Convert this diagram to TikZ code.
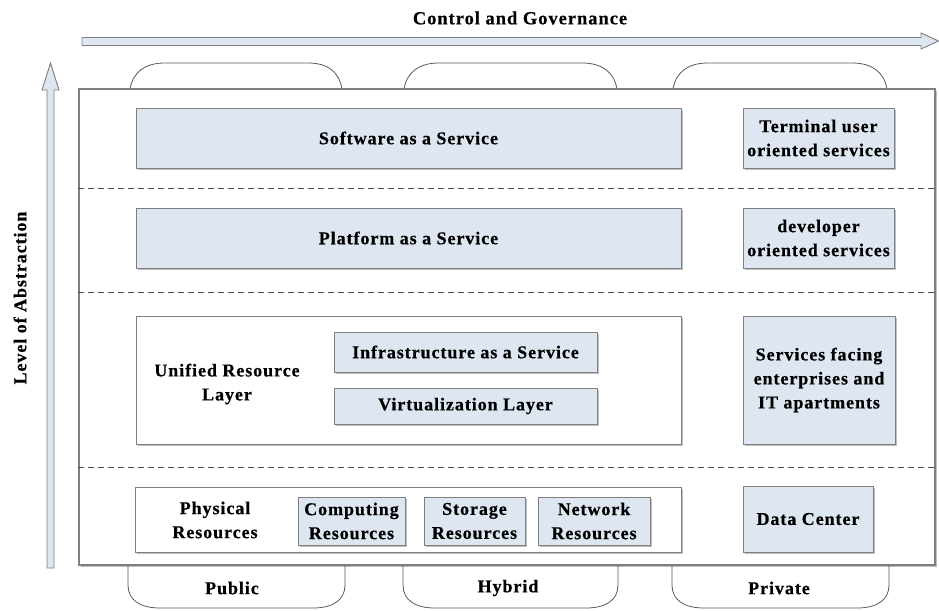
\documentclass[tikz,border=0pt]{standalone}
\usepackage{fontspec}
\setmainfont{Liberation Serif}[LetterSpace=5.2, BoldFeatures={FakeBold=0.5}]
\usetikzlibrary{shadows}
\definecolor{paleblue}{HTML}{DEE7F1}
\definecolor{edgegray}{HTML}{7F7F7F}
\tikzset{
  lbl/.style={font=\fontsize{18}{24}\selectfont\bfseries, align=center, inner sep=0pt},
  shadowed/.style={drop shadow={shadow xshift=1.6pt, shadow yshift=-1.6pt, fill=black, opacity=0.25}},
  bluebox/.style={lbl, draw=edgegray, fill=paleblue, line width=0.9pt, shadowed},
  whitebox/.style={lbl, draw=edgegray, fill=white, line width=0.9pt, shadowed},
  blockarrow/.style={draw=edgegray, fill=paleblue, line width=0.9pt, line join=miter},
  tab/.style={draw=black!65, line width=0.8pt},
  separator/.style={draw=black!70, dashed, dash pattern=on 6pt off 4pt, line width=0.9pt}
}
\begin{document}
\begin{tikzpicture}[x=1pt, y=-1pt]
\useasboundingbox (0,0) rectangle (939,610);

% axis arrows
\path[blockarrow] (82,37.5) -- (921,37.5) -- (921,33) -- (938.5,41) -- (921,49) -- (921,45.5) -- (82,45.5) -- cycle;
\node[lbl, font=\fontsize{18.5}{24}\selectfont\bfseries] (gov) at (520,18) {Control and Governance};
\path[blockarrow] (47,568) -- (47,90) -- (42,90) -- (50.5,63) -- (59,90) -- (54,90) -- (54,568) -- cycle;
\node[lbl, rotate=90] (abs) at (20,298) {Level of Abstraction};

% deployment tabs above the frame
\path[tab] (130,89) .. controls (133,72) and (145,63) .. (165,63) -- (308,63) .. controls (328,63) and (339,72) .. (342,89);
\path[tab] (404,89) .. controls (407,72) and (419,63) .. (439,63) -- (582,63) .. controls (602,63) and (614,72) .. (617,89);
\path[tab] (673,89) .. controls (676,72) and (688,63) .. (708,63) -- (852,63) .. controls (872,63) and (884,72) .. (887,89);

% deployment tabs below the frame
\path[tab] (128,565) -- (128,585) .. controls (128,600) and (140,608) .. (160,608) -- (313,608) .. controls (333,608) and (345,600) .. (345,585) -- (345,565);
\path[tab] (403,565) -- (403,585) .. controls (403,600) and (415,608) .. (435,608) -- (586,608) .. controls (606,608) and (618,600) .. (618,585) -- (618,565);
\path[tab] (672,565) -- (672,585) .. controls (672,600) and (684,608) .. (704,608) -- (857,608) .. controls (877,608) and (889,600) .. (889,585) -- (889,565);
\node[lbl] (public) at (232,588) {Public};
\node[lbl] (hybrid) at (508,588) {Hybrid};
\node[lbl] (private) at (779,588) {Private};

% main frame
\node[whitebox, minimum width=856pt, minimum height=476pt, line width=1.1pt] (frame) at (507,327) {};

% layer separators
\draw[separator] (frame.west |- 0,188) -- (frame.east |- 0,188);
\draw[separator] (frame.west |- 0,292) -- (frame.east |- 0,292);
\draw[separator] (frame.west |- 0,467) -- (frame.east |- 0,467);

% SaaS layer
\node[bluebox, minimum width=545pt, minimum height=60pt] (saas) at (408.5,138) {Software as a Service};
\node[bluebox, minimum width=151pt, minimum height=60pt] (enduser) at (818.5,138) {Terminal user\\oriented services};

% PaaS layer
\node[bluebox, minimum width=545pt, minimum height=60pt] (paas) at (408.5,238) {Platform as a Service};
\node[bluebox, minimum width=151pt, minimum height=60pt] (dev) at (818.5,238) {developer\\oriented services};

% IaaS layer
\node[whitebox, minimum width=545pt, minimum height=128pt] (unified) at (408.5,380) {};
\node[lbl] (unifiedlbl) at (227,384) {Unified Resource\\Layer};
\node[bluebox, minimum width=263pt, minimum height=40pt] (iaas) at (465.5,352) {Infrastructure as a Service};
\node[bluebox, minimum width=263pt, minimum height=36pt] (virt) at (465.5,406) {Virtualization Layer};
\node[bluebox, minimum width=152pt, minimum height=128pt] (enterprise) at (819,380) {Services facing\\enterprises and\\IT apartments};

% physical layer
\node[whitebox, minimum width=546pt, minimum height=65pt] (physical) at (408,519.5) {};
\node[lbl] (physlbl) at (215,520) {Physical\\Resources};
\node[bluebox, minimum width=107pt, minimum height=48pt] (compute) at (351.5,521) {Computing\\Resources};
\node[bluebox, minimum width=101pt, minimum height=48pt] (storage) at (474.5,521) {Storage\\Resources};
\node[bluebox, minimum width=112pt, minimum height=48pt] (network) at (594,521) {Network\\Resources};
\node[bluebox, minimum width=130pt, minimum height=66pt] (dc) at (808,519) {Data Center};
\end{tikzpicture}
\end{document}
